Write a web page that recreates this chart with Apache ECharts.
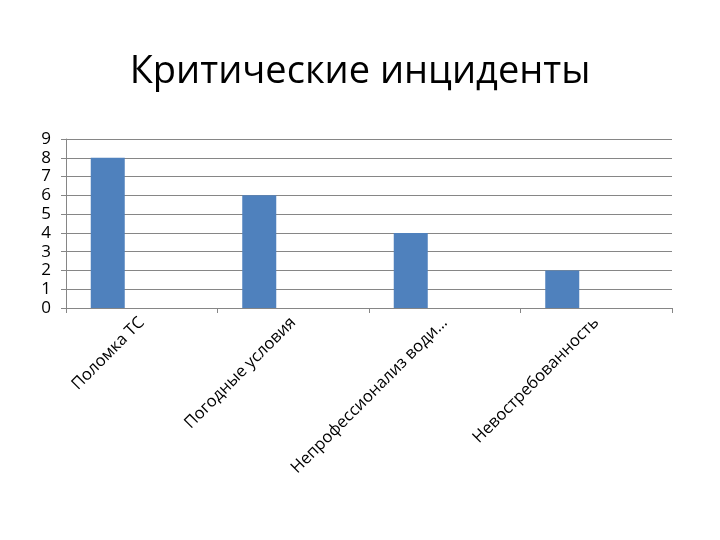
<!DOCTYPE html>
<html>
<head>
<meta charset="utf-8">
<title>Критические инциденты</title>
<script src="https://cdn.jsdelivr.net/npm/echarts@6/dist/echarts.min.js"></script>
<style>
  html, body { margin: 0; padding: 0; background: #fff; }
  #chart { width: 720px; height: 540px; }
</style>
</head>
<body>
<div id="chart"></div>
<script>
// данные
var categories = ['Поломка ТС', 'Погодные условия', 'Непрофессионализ води...', 'Невостребованность'];
var incidents = [8, 6, 4, 2];
var emptySeries = ['-', '-', '-', '-'];

var chart = echarts.init(document.getElementById('chart'));
var font = 'Open Sans';

var option = {
  animation: false,
  title: {
    text: 'Критические инциденты',
    left: 'center',
    top: 48,
    textStyle: { fontFamily: font, fontSize: 38, fontWeight: 'normal', color: '#000' }
  },
  grid: { left: 66, right: 48, top: 139, bottom: 232 },
  xAxis: {
    type: 'category',
    data: categories,
    axisLine: { lineStyle: { color: '#868686' } },
    axisTick: { show: true, length: 5, lineStyle: { color: '#868686' } },
    axisLabel: {
      interval: 0,
      rotate: 45,
      margin: 12,
      fontFamily: font,
      fontSize: 16.5,
      color: '#000'
    }
  },
  yAxis: {
    type: 'value',
    min: 0,
    max: 9,
    interval: 1,
    axisLine: { show: true, lineStyle: { color: '#868686' } },
    axisTick: { show: true, length: 5, lineStyle: { color: '#868686' } },
    splitLine: { lineStyle: { color: '#868686' } },
    axisLabel: { margin: 15, fontFamily: font, fontSize: 17, color: '#000' }
  },
  series: [
    {
      type: 'bar',
      data: incidents,
      barWidth: 34,
      barGap: '0%',
      itemStyle: { color: '#4F81BD' }
    },
    { type: 'bar', data: emptySeries, barWidth: 34 },
    { type: 'bar', data: emptySeries, barWidth: 34 }
  ]
};

chart.setOption(option);
</script>
</body>
</html>
